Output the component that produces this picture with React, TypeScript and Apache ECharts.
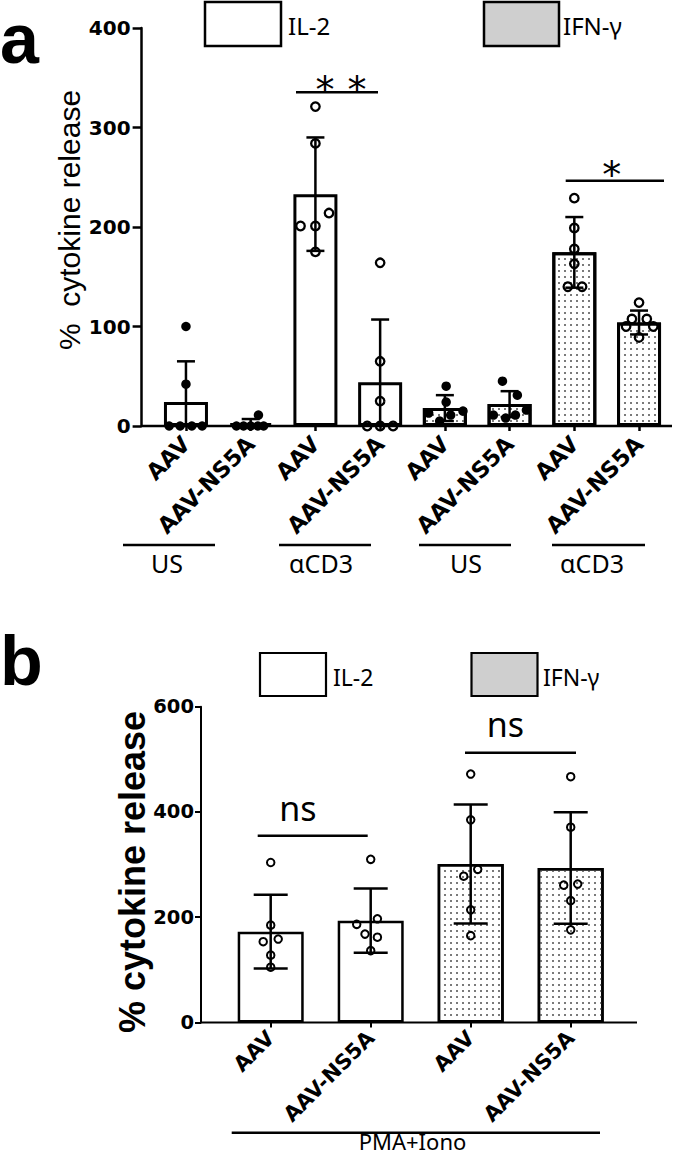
import React, { useEffect, useRef } from 'react';
import * as echarts from 'echarts';

// ---------- Panel a data ----------
const categoriesA = ['AAV', 'AAV-NS5A', 'AAV', 'AAV-NS5A', 'AAV', 'AAV-NS5A', 'AAV', 'AAV-NS5A'];
const cytokineA = ['IL-2', 'IL-2', 'IL-2', 'IL-2', 'IFN-γ', 'IFN-γ', 'IFN-γ', 'IFN-γ'];
const stimulusA = ['US', 'US', 'αCD3', 'αCD3', 'US', 'US', 'αCD3', 'αCD3'];
const meansA = [24, 3, 233, 44, 18, 22, 174.5, 104];
const sdA = [41, 4, 57, 63, 13, 13, 35.5, 12];
const pointsA = [
  [100, 42, 0, 0, 0, 0],
  [11, 0, 0, 0, 0, 0],
  [321, 284, 214, 201, 201, 175],
  [164, 65, 25, 0, 0, 0],
  [40, 24, 13, 11, 15, 5],
  [45, 31, 11, 8, 11, 16],
  [229, 199, 178, 163, 140, 140],
  [124, 107.5, 107.5, 100, 100, 89],
];
const jitterA = [
  [0, 0, -0.26, -0.09, 0.09, 0.25],
  [0.12, -0.22, -0.11, 0, 0.11, 0.2],
  [0, 0, 0.21, -0.23, 0, 0],
  [0, 0, 0, -0.2, 0, 0.2],
  [0.02, 0.02, -0.25, 0.09, 0.28, -0.08],
  [-0.11, 0.12, -0.25, -0.06, 0.09, 0.26],
  [0, 0, 0, 0, -0.1, 0.12],
  [0, -0.11, 0.12, -0.2, 0.22, 0],
];
const yTicksA = [0, 100, 200, 300, 400];
const groupLabelsA = ['US', 'αCD3', 'US', 'αCD3'];
const sigA = ['*', '*', '*'];

// ---------- Panel b data ----------
const categoriesB = ['AAV', 'AAV-NS5A', 'AAV', 'AAV-NS5A'];
const cytokineB = ['IL-2', 'IL-2', 'IFN-γ', 'IFN-γ'];
const meansB = [172.5, 193.5, 301, 293.6];
const sdB = [70, 61, 113, 106];
const pointsB = [
  [304, 185, 153.5, 158.6, 128, 105],
  [310, 197, 186.5, 168, 162, 136.5],
  [472, 385, 291, 278, 214, 165],
  [467, 371, 261, 263, 231.5, 176],
];
const jitterB = [
  [0, 0, -0.075, 0.075, 0, 0],
  [0, 0.067, -0.14, -0.057, 0.067, 0],
  [0, 0, 0.07, -0.07, 0, 0],
  [0, 0, -0.07, 0.07, 0, 0],
];
const yTicksB = [0, 200, 400, 600];
const groupLabelB = 'PMA+Iono';
const sigB = ['ns', 'ns'];
const legendNames = ['IL-2', 'IFN-γ'];

const TICK_FONT = 'DejaVu Sans';
const TEXT_FONT = 'Noto Sans';

const dotDecal = {
  symbol: 'rect',
  symbolSize: 1,
  color: '#7a7a7a',
  dashArrayX: [1.3, 3.7],
  dashArrayY: [1.3, 3.7],
  rotation: 0,
};

function errorRenderer(cap: number, lw: number) {
  return (params: any, api: any) => {
    const x = api.value(0);
    const m = api.value(1);
    const s = api.value(2);
    const hi = api.coord([x, m + s]);
    const loV = m - s;
    const lo = api.coord([x, Math.max(0, loV)]);
    const st = { stroke: '#000', lineWidth: lw };
    const children: any[] = [
      { type: 'line', shape: { x1: hi[0], y1: hi[1], x2: lo[0], y2: lo[1] }, style: st },
      { type: 'line', shape: { x1: hi[0] - cap / 2, y1: hi[1], x2: hi[0] + cap / 2, y2: hi[1] }, style: st },
    ];
    if (loV > 0) {
      children.push({ type: 'line', shape: { x1: lo[0] - cap / 2, y1: lo[1], x2: lo[0] + cap / 2, y2: lo[1] }, style: st });
    }
    return { type: 'group', children };
  };
}

function pts(points: number[][], jitter: number[][], filter: (i: number) => boolean) {
  const out: number[][] = [];
  points.forEach((arr, i) => {
    if (!filter(i)) return;
    arr.forEach((v, j) => out.push([i + jitter[i][j], v]));
  });
  return out;
}

export default function App() {
  const ref = useRef<HTMLDivElement>(null);
  useEffect(() => {
    if (!ref.current) return;
    const chart = echarts.init(ref.current, undefined, { renderer: 'svg' });

    const yAxisCommon = (lw: number, tickLen: number, margin: number, size: number) => ({
      type: 'value' as const,
      axisLine: { show: true, onZero: false, lineStyle: { color: '#000', width: lw } },
      axisTick: { show: true, length: tickLen, lineStyle: { color: '#000', width: lw } },
      axisLabel: { margin, color: '#000', fontFamily: TICK_FONT, fontWeight: 'bold' as const, fontSize: size },
      splitLine: { show: false },
    });

    const xCat = (data: string[], grid: number, margin: number, size: number, lw: number) => ({
      type: 'category' as const,
      gridIndex: grid,
      data,
      axisLine: { show: false, onZero: false },
      axisTick: { show: true, alignWithLabel: true, length: 5, lineStyle: { color: '#000', width: lw } },
      axisLabel: { rotate: 45, margin, color: '#000', fontFamily: TICK_FONT, fontWeight: 'bold' as const, fontSize: size, interval: 0 },
    });

    const textEl = (text: string, x: number, y: number, size: number, opts: any = {}) => ({
      type: 'text',
      x,
      y,
      rotation: opts.rotation || 0,
      style: {
        text,
        fill: '#000',
        fontSize: size,
        fontFamily: opts.family || TEXT_FONT,
        fontWeight: opts.weight || 'normal',
        align: opts.align || 'center',
        verticalAlign: 'middle',
      },
    });
    const lineEl = (x1: number, y1: number, x2: number, y2: number, lw: number) => ({
      type: 'line',
      shape: { x1, y1, x2, y2 },
      style: { stroke: '#000', lineWidth: lw },
    });
    const rectEl = (x: number, y: number, w: number, h: number, fill: string, lw: number) => ({
      type: 'rect',
      shape: { x, y, width: w, height: h },
      style: { fill, stroke: '#000', lineWidth: lw },
    });

    const option: any = {
      animation: false,
      grid: [
        { left: 153.6, top: 28, width: 517.8, height: 398 },
        { left: 220.7, top: 706.7, width: 400, height: 315.8 },
      ],
      xAxis: [
        xCat(categoriesA, 0, 14, 22.5, 2.5),
        { type: 'value', gridIndex: 0, min: -0.5, max: categoriesA.length - 0.5, show: false },
        xCat(categoriesB, 1, 12, 21, 2),
        { type: 'value', gridIndex: 1, min: -0.5, max: categoriesB.length - 0.5, show: false },
      ],
      yAxis: [
        {
          ...yAxisCommon(2.5, 9, 11, 20),
          gridIndex: 0,
          min: yTicksA[0],
          max: yTicksA[yTicksA.length - 1],
          interval: yTicksA[1] - yTicksA[0],
          offset: 12,
        },
        {
          ...yAxisCommon(2, 6, 7, 19.5),
          gridIndex: 1,
          min: yTicksB[0],
          max: yTicksB[yTicksB.length - 1],
          interval: yTicksB[1] - yTicksB[0],
          offset: 19.7,
        },
      ],
      series: [
        {
          type: 'bar',
          name: legendNames[0],
          xAxisIndex: 0,
          yAxisIndex: 0,
          data: meansA.map((v, i) => (cytokineA[i] === legendNames[0] ? v : '-')),
          barWidth: 44,
          barGap: '-100%',
          itemStyle: { color: '#fff', borderColor: '#000', borderWidth: 3 },
          z: 2,
        },
        {
          type: 'bar',
          name: legendNames[1],
          xAxisIndex: 0,
          yAxisIndex: 0,
          data: meansA.map((v, i) => (cytokineA[i] === legendNames[1] ? v : '-')),
          barWidth: 44,
          barGap: '-100%',
          itemStyle: { color: '#fff', borderColor: '#000', borderWidth: 3, decal: dotDecal },
          z: 2,
        },
        {
          type: 'custom',
          xAxisIndex: 1,
          yAxisIndex: 0,
          data: meansA.map((m, i) => [i, m, sdA[i]]),
          encode: { x: 0, y: 1 },
          renderItem: errorRenderer(18, 2.5),
          z: 3,
        },
        {
          type: 'scatter',
          xAxisIndex: 1,
          yAxisIndex: 0,
          data: pts(pointsA, jitterA, (i) => stimulusA[i] === 'US'),
          symbol: 'circle',
          symbolSize: 9.5,
          itemStyle: { color: '#000', opacity: 1 },
          z: 4,
        },
        {
          type: 'scatter',
          xAxisIndex: 1,
          yAxisIndex: 0,
          data: pts(pointsA, jitterA, (i) => stimulusA[i] !== 'US'),
          symbol: 'circle',
          symbolSize: 8.5,
          itemStyle: { color: 'rgba(0,0,0,0)', borderColor: '#000', borderWidth: 2.3, opacity: 1 },
          z: 4,
        },
        // panel b
        {
          type: 'bar',
          name: legendNames[0],
          xAxisIndex: 2,
          yAxisIndex: 1,
          data: meansB.map((v, i) => (cytokineB[i] === legendNames[0] ? v : '-')),
          barWidth: 66,
          barGap: '-100%',
          itemStyle: { color: '#fff', borderColor: '#000', borderWidth: 2.5 },
          z: 2,
        },
        {
          type: 'bar',
          name: legendNames[1],
          xAxisIndex: 2,
          yAxisIndex: 1,
          data: meansB.map((v, i) => (cytokineB[i] === legendNames[1] ? v : '-')),
          barWidth: 66,
          barGap: '-100%',
          itemStyle: { color: '#fff', borderColor: '#000', borderWidth: 2.5, decal: dotDecal },
          z: 2,
        },
        {
          type: 'custom',
          xAxisIndex: 3,
          yAxisIndex: 1,
          data: meansB.map((m, i) => [i, m, sdB[i]]),
          encode: { x: 0, y: 1 },
          renderItem: errorRenderer(34, 2.5),
          z: 3,
        },
        {
          type: 'scatter',
          xAxisIndex: 3,
          yAxisIndex: 1,
          data: pts(pointsB, jitterB, () => true),
          symbol: 'circle',
          symbolSize: 7.5,
          itemStyle: { color: 'rgba(0,0,0,0)', borderColor: '#000', borderWidth: 2, opacity: 1 },
          z: 4,
        },
      ],
      graphic: [
        // panel letters
        textEl('a', 0, 39, 70, { family: 'Liberation Sans', weight: 'bold', align: 'left' }),
        textEl('b', 0, 661, 70, { family: 'Liberation Sans', weight: 'bold', align: 'left' }),
        // axis titles
        textEl('%  cytokine release', 69, 220, 30, { family: 'Liberation Sans', rotation: Math.PI / 2 }),
        textEl('% cytokine release', 132, 872, 36, { family: 'Liberation Sans', weight: 'bold', rotation: Math.PI / 2 }),
        // x axis lines
        lineEl(141.7, 426, 672, 426, 2.5),
        lineEl(201, 1022.5, 637, 1022.5, 2),
        // legends a
        rectEl(205, 2, 76, 44, '#fff', 2.5),
        textEl(legendNames[0], 288, 25, 24, { align: 'left' }),
        rectEl(484, 2, 75, 44, '#cfcfcf', 2.5),
        textEl(legendNames[1], 563, 25, 24, { align: 'left' }),
        // legends b
        rectEl(260, 653, 66, 43, '#fff', 2.2),
        textEl(legendNames[0], 333, 677, 23, { align: 'left' }),
        rectEl(471.5, 653, 66, 43, '#cfcfcf', 2.2),
        textEl(legendNames[1], 543, 677, 23, { align: 'left' }),
        // group labels a
        lineEl(123, 545, 215, 545, 2.5),
        textEl(groupLabelsA[0], 167, 563, 25),
        lineEl(279, 545, 371, 545, 2.5),
        textEl(groupLabelsA[1], 321, 563, 25),
        lineEl(419, 545, 511, 545, 2.5),
        textEl(groupLabelsA[2], 466, 563, 25),
        lineEl(552, 545, 645, 545, 2.5),
        textEl(groupLabelsA[3], 592, 563, 25),
        // group label b
        lineEl(231.7, 1132.7, 600, 1132.7, 2.5),
        textEl(groupLabelB, 412.5, 1141, 22),
        // significance a
        lineEl(296, 92.3, 378, 92.3, 2.5),
        textEl(sigA[0], 325, 90, 38, { family: 'DejaVu Sans' }),
        textEl(sigA[1], 357, 90, 38, { family: 'DejaVu Sans' }),
        lineEl(565.7, 180.7, 664, 180.7, 2.5),
        textEl(sigA[2], 611.7, 175, 38, { family: 'DejaVu Sans' }),
        // significance b
        lineEl(257.7, 835.7, 367.7, 835.7, 2.5),
        textEl(sigB[0], 298, 808, 34),
        lineEl(465, 752.7, 576, 752.7, 2.5),
        textEl(sigB[1], 505.5, 724, 34),
      ],
    };

    chart.setOption(option);
    return () => chart.dispose();
  }, []);

  return (
    <div
      ref={ref}
      style={{ position: 'absolute', left: 0, top: 0, width: 685, height: 1157, background: '#fff' }}
    />
  );
}
